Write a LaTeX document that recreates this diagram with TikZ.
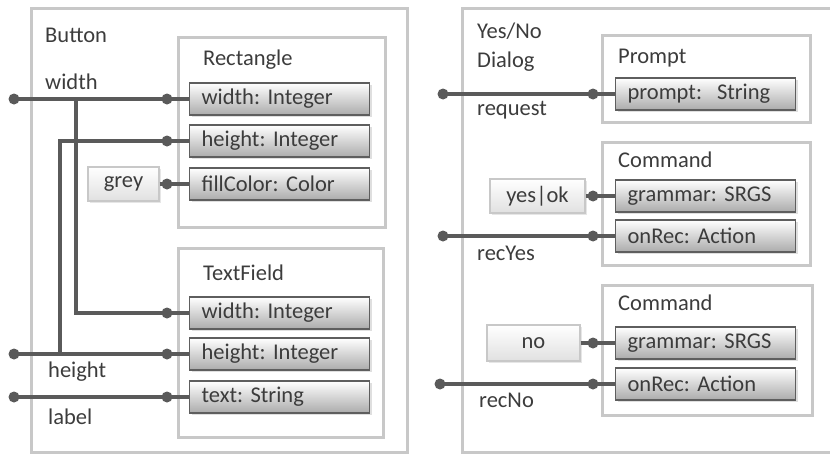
\documentclass[tikz,border=0pt]{standalone}
\usepackage{fontspec}
\setmainfont{Carlito}
\usetikzlibrary{positioning,shadows,calc}
\definecolor{cframe}{HTML}{C8C8C8}
\definecolor{cwire}{HTML}{5A5A5A}
\definecolor{ctext}{HTML}{3C3C3C}
\definecolor{cedge}{HTML}{5E5E5E}
\definecolor{cshade}{HTML}{ABABAB}
\frenchspacing

\begin{document}
\begin{tikzpicture}[x=1pt, y=-1pt, font=\fontsize{22.5}{27}\selectfont, text=ctext,
  frame/.style={draw=cframe, line width=3pt},
  prop/.style={draw=cedge, line width=1.2pt, top color=white, bottom color=cshade,
    drop shadow={shadow xshift=2pt, shadow yshift=-2pt, opacity=0.25},
    minimum width=180pt, minimum height=32pt, text width=156pt, inner xsep=12pt,
    inner ysep=0pt, align=left, anchor=west},
  val/.style={draw=cframe, line width=1.2pt, top color=white, bottom color=black!12,
    drop shadow={shadow xshift=2pt, shadow yshift=-2pt, opacity=0.2},
    minimum height=34pt, inner sep=0pt},
  lbl/.style={anchor=west, inner sep=0pt, align=left},
  wire/.style={draw=cwire, line width=3.6pt},
  dot/.style={circle, fill=cwire, inner sep=0pt, minimum size=11pt}]
\useasboundingbox (0,0) rectangle (830,455);
\clip (0,0) rectangle (830,455);

% Button
\draw[frame] (31,8) rectangle (407,452);
\draw[frame] (178,37) rectangle (385,227);
\draw[frame] (178,248) rectangle (383,437);
\node[lbl] (button) at (45,35) {Button};
\node[lbl] (rectangle) at (203,60) {Rectangle};
\node[lbl] (textfield) at (203,273) {TextField};
\node[lbl] (lwidth) at (45,82) {width};
\node[lbl] (lheight) at (48,372) {height};
\node[lbl] (llabel) at (48,417) {label};

\node[prop] (rw) at (189,99) {width: Integer};
\node[prop] (rh) at (189,141) {height: Integer};
\node[prop] (rf) at (189,184) {fillColor: Color};
\node[prop] (tw) at (189,313) {width: Integer};
\node[prop] (th) at (189,354) {height: Integer};
\node[prop] (tt) at (189,397) {text: String};
\node[val, minimum width=71pt] (grey) at (123.5,184) {grey};

% Yes/No Dialog
\draw[frame] (462,8) rectangle (845,452);
\draw[frame] (602,35) rectangle (810,122);
\draw[frame] (602,142) rectangle (810,265);
\draw[frame] (602,285) rectangle (812,415);
\node[lbl, font=\fontsize{22.5}{29}\selectfont] (dialog) at (477,47) {Yes/No\\Dialog};
\node[lbl] (prompt) at (618,58) {Prompt};
\node[lbl] (cmdyes) at (618,160) {Command};
\node[lbl] (cmdno) at (618,303) {Command};
\node[lbl] (lrequest) at (477,110) {request};
\node[lbl] (lrecyes) at (477,253) {recYes};
\node[lbl] (lrecno) at (479,400) {recNo};

\node[prop] (pp) at (615,94) {prompt:~~String};
\node[prop] (g1) at (615,196) {grammar: SRGS};
\node[prop] (a1) at (615,236) {onRec: Action};
\node[prop] (g2) at (615,343) {grammar: SRGS};
\node[prop] (a2) at (615,384) {onRec: Action};
\node[val, minimum width=95pt] (yesok) at (537.5,196) {yes|ok};
\node[val, minimum width=93pt, minimum height=36pt] (no) at (533.5,343) {no};

% pins in front of the fields
\foreach \f in {rw,rh,rf,tw,th,tt,pp,g1,a1,g2,a2}
  \node[dot] (\f-pin) at ([xshift=-22pt]\f.west) {};

% free ends
\node[dot] (in-width) at (14,99) {};
\node[dot] (in-height) at (14,354) {};
\node[dot] (in-label) at (14,397) {};
\node[dot] (in-request) at (443,94) {};
\node[dot] (in-recyes) at (443,236) {};
\node[dot] (in-recno) at (440,384) {};
\coordinate (wbranch) at (76,99);
\coordinate (hbranch) at (60,354);

% wires
\foreach \f in {rw,rh,rf,tw,th,tt,pp,g1,a1,g2,a2}
  \draw[wire] (\f-pin.center) -- (\f.west);
\draw[wire] (in-width.center) -- (rw-pin.center);
\draw[wire] (wbranch) |- (tw-pin.center);
\draw[wire] (in-height.center) -- (th-pin.center);
\draw[wire] (hbranch) |- (rh-pin.center);
\draw[wire] (in-label.center) -- (tt-pin.center);
\draw[wire] (grey.east) -- (rf-pin.center);
\draw[wire] (in-request.center) -- (pp-pin.center);
\draw[wire] (yesok.east) -- (g1-pin.center);
\draw[wire] (in-recyes.center) -- (a1-pin.center);
\draw[wire] (no.east) -- (g2-pin.center);
\draw[wire] (in-recno.center) -- (a2-pin.center);
\end{tikzpicture}
\end{document}
